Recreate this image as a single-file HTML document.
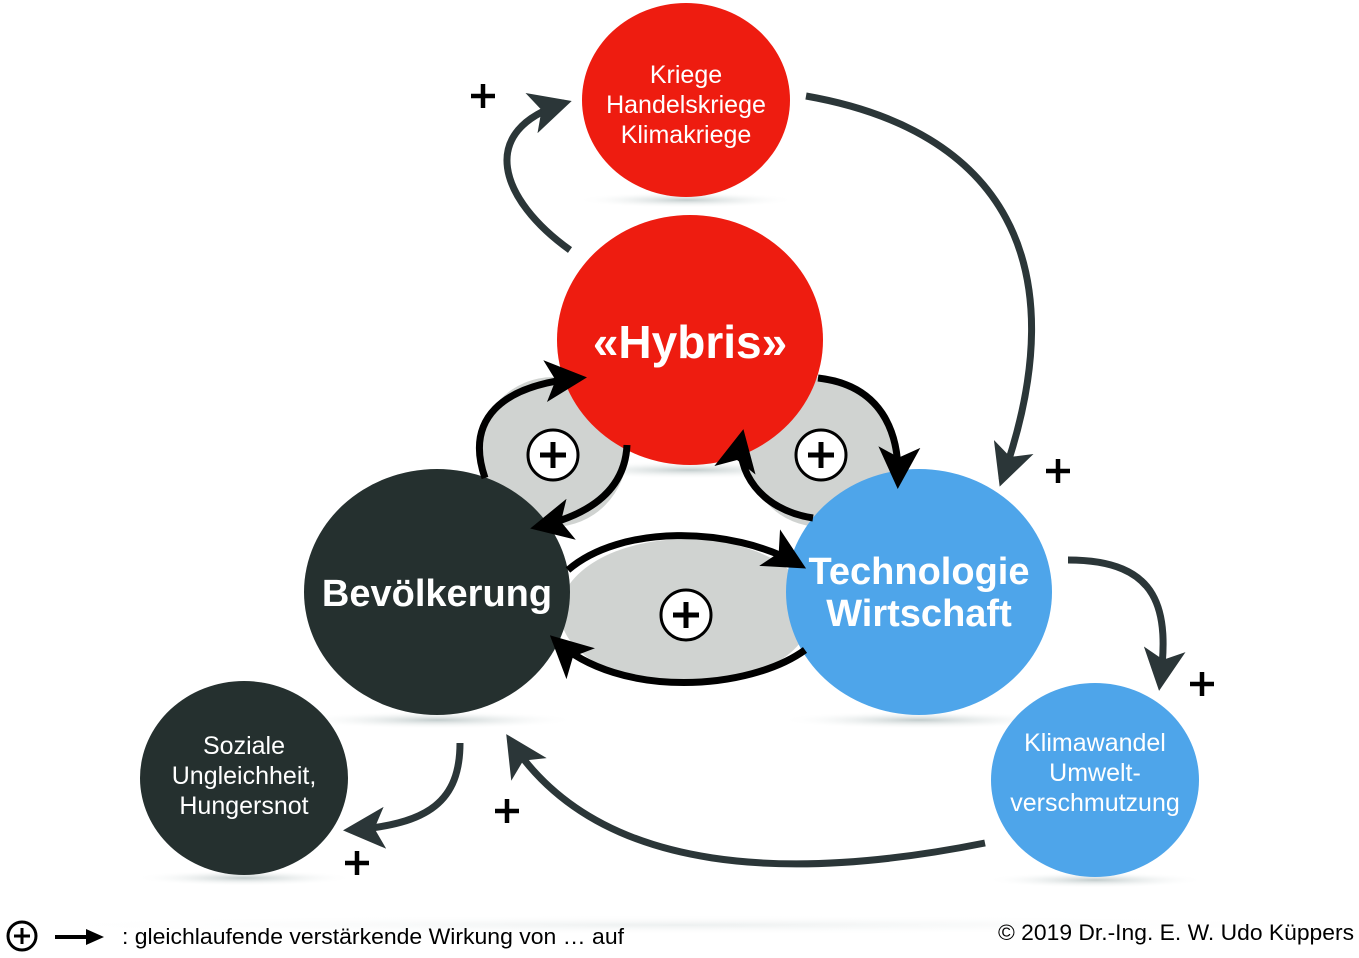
<!DOCTYPE html>
<html><head><meta charset="utf-8"><style>
body{margin:0;background:#fff;}
svg{display:block;font-family:"Liberation Sans",sans-serif;}
</style></head><body>
<svg width="1359" height="958" viewBox="0 0 1359 958" xmlns="http://www.w3.org/2000/svg">
<defs>
<marker id="ab" markerWidth="6" markerHeight="6" refX="5" refY="3" orient="auto" markerUnits="strokeWidth"><path d="M0,0 L6,3 L0,6 L1.5,3 z" fill="#000"/></marker>
<marker id="ag" markerWidth="6" markerHeight="6" refX="5" refY="3" orient="auto" markerUnits="strokeWidth"><path d="M0,0 L6,3 L0,6 L1.5,3 z" fill="#2b3638"/></marker>
<radialGradient id="sh"><stop offset="0" stop-color="#9aa" stop-opacity="0.6"/><stop offset="1" stop-color="#fff" stop-opacity="0"/></radialGradient>
</defs>
<!-- shadows -->
<ellipse cx="686" cy="200" rx="110" ry="8" fill="url(#sh)"/>
<ellipse cx="690" cy="470" rx="140" ry="9" fill="url(#sh)"/>
<ellipse cx="437" cy="720" rx="140" ry="9" fill="url(#sh)"/>
<ellipse cx="919" cy="720" rx="140" ry="9" fill="url(#sh)"/>
<ellipse cx="244" cy="878" rx="110" ry="8" fill="url(#sh)"/>
<ellipse cx="1095" cy="880" rx="110" ry="8" fill="url(#sh)"/>
<ellipse cx="680" cy="925" rx="680" ry="10" fill="url(#sh)" opacity="0.3"/>
<!-- gray ellipses -->
<ellipse cx="553" cy="452" rx="74" ry="75" fill="#d0d3d1"/>
<ellipse cx="821" cy="452" rx="74" ry="75" fill="#d0d3d1"/>
<ellipse cx="686" cy="612" rx="126" ry="73" fill="#d0d3d1"/>
<!-- gray arrows -->
<g fill="none" stroke="#2b3638" stroke-width="7">
<path d="M570,250 C500,200 475,130 565,103" marker-end="url(#ag)"/>
<path d="M806,96 C1000,130 1080,260 1002,480" marker-end="url(#ag)"/>
<path d="M1068,560 C1160,560 1170,610 1160,684" marker-end="url(#ag)"/>
<path d="M985,843 C800,880 600,880 510,740" marker-end="url(#ag)"/>
<path d="M460,743 C460,800 430,825 350,830" marker-end="url(#ag)"/>
</g>
<!-- circles -->
<ellipse cx="686" cy="100" rx="104" ry="97" fill="#ee1c10"/>
<ellipse cx="690" cy="340" rx="133" ry="125" fill="#ee1c10"/>
<ellipse cx="437" cy="592" rx="133" ry="123" fill="#25302f"/>
<ellipse cx="919" cy="592" rx="133" ry="123" fill="#4ea5ea"/>
<ellipse cx="244" cy="778" rx="104" ry="97" fill="#25302f"/>
<ellipse cx="1095" cy="780" rx="104" ry="97" fill="#4ea5ea"/>
<!-- black loops on top -->
<g fill="none" stroke="#000" stroke-width="7">
<path d="M485,478 C465,420 500,385 580,378" marker-end="url(#ab)"/>
<path d="M627,445 C625,490 590,515 537,527" marker-end="url(#ab)"/>
<path d="M818,378 C880,385 900,430 898,482" marker-end="url(#ab)"/>
<path d="M813,518 C760,510 735,470 742,436" marker-end="url(#ab)"/>
<path d="M568,570 C620,525 730,525 800,565" marker-end="url(#ab)"/>
<path d="M805,650 C750,690 620,700 555,640" marker-end="url(#ab)"/>
</g>
<!-- plus circles -->
<g fill="#fff" stroke="#000" stroke-width="3">
<circle cx="553" cy="455" r="25"/><circle cx="821" cy="455" r="25"/><circle cx="686" cy="615" r="25"/>
</g>
<g stroke="#000" stroke-width="5">
<path d="M540,455h26M553,442v26M808,455h26M821,442v26M673,615h26M686,602v26"/>
</g>
<!-- text -->
<g fill="#fff" text-anchor="middle" font-size="25">
<text x="686" y="83">Kriege</text>
<text x="686" y="113">Handelskriege</text>
<text x="686" y="143">Klimakriege</text>
<text x="690" y="358" font-size="46" font-weight="bold">«Hybris»</text>
<text x="437" y="606" font-size="38" font-weight="bold">Bevölkerung</text>
<text x="919" y="584" font-size="38" font-weight="bold">Technologie</text>
<text x="919" y="626" font-size="38" font-weight="bold">Wirtschaft</text>
<text x="244" y="754">Soziale</text>
<text x="244" y="784">Ungleichheit,</text>
<text x="244" y="814">Hungersnot</text>
<text x="1095" y="751">Klimawandel</text>
<text x="1095" y="781">Umwelt-</text>
<text x="1095" y="811">verschmutzung</text>
</g>
<g stroke="#000" stroke-width="4.5">
<path d="M471,96h24M483,84v24"/>
<path d="M1046,471h24M1058,459v24"/>
<path d="M1190,684h24M1202,672v24"/>
<path d="M495,811h24M507,799v24"/>
<path d="M345,863h24M357,851v24"/>
</g>
<!-- legend -->
<circle cx="22" cy="936" r="14" fill="#fff" stroke="#000" stroke-width="3"/>
<path d="M14,936h16M22,928v16" stroke="#000" stroke-width="3"/>
<path d="M55,937h35" stroke="#000" stroke-width="4"/>
<path d="M86,929 L104,937 L86,945 z" fill="#000"/>
<text x="122" y="944" font-size="22" fill="#000" textLength="502" lengthAdjust="spacingAndGlyphs">: gleichlaufende verstärkende Wirkung von … auf</text>
<text x="998" y="940" font-size="22" fill="#000" textLength="356" lengthAdjust="spacingAndGlyphs">© 2019 Dr.-Ing. E. W. Udo Küppers</text>
</svg>
</body></html>
